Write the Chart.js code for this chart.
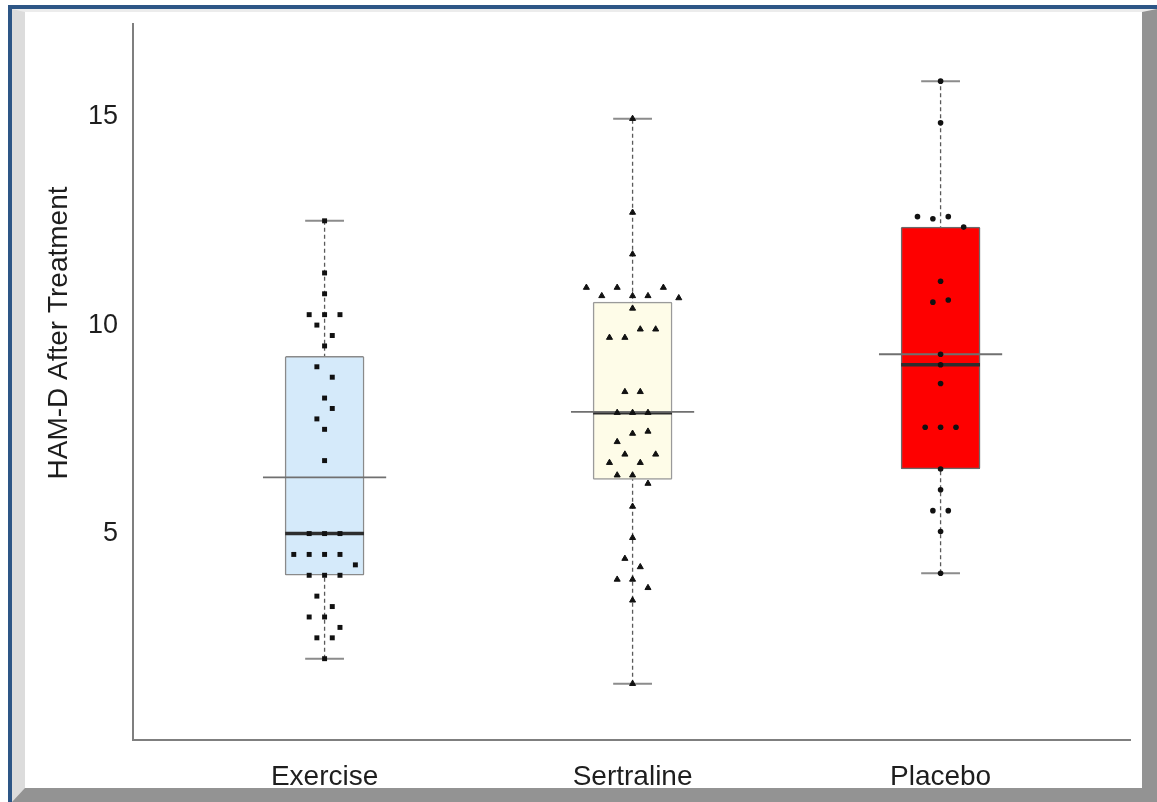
<!DOCTYPE html>
<html>
<head>
<meta charset="utf-8">
<script src="https://cdn.jsdelivr.net/npm/chart.js@4.4.1/dist/chart.umd.min.js"></script>
<style>
  html, body { margin: 0; padding: 0; background: #ffffff; }
  #stage { position: relative; width: 1157px; height: 802px; overflow: hidden; background: #ffffff; }
  #frame {
    position: absolute; left: 8px; top: 5px; width: 1153px; height: 801px;
    box-sizing: border-box; border: 4px solid #2d5686;
  }
  #bevel {
    position: absolute; left: 0; top: 0; right: 0; bottom: 0;
    box-sizing: border-box; background: #ffffff;
    border-left: 13px solid #dcdcdc; border-top: 3px solid #ececec;
    border-right: 15px solid #939393; border-bottom: 14px solid #939393;
  }
  #plot { position: absolute; left: 0; top: 0; }
</style>
</head>
<body>
<div id="stage">
  <div id="frame"><div id="bevel"></div></div>
  <canvas id="plot" width="1157" height="802"></canvas>
</div>
<script>
// Treatment groups and y-axis ticks
const groups = ['Exercise', 'Sertraline', 'Placebo'];
const yTicks = [5, 10, 15];

// Individual HAM-D scores per group, with a small horizontal jitter slot for each point
const exerciseScores = [12.5, 11.25, 10.75, 10.25, 10.25, 10.25, 10.0, 9.75, 9.5, 9.0, 8.75, 8.25, 8.0, 7.75, 7.5, 6.75,
  5.0, 5.0, 5.0, 4.5, 4.5, 4.5, 4.5, 4.25, 4.0, 4.0, 4.0, 3.5, 3.25, 3.0, 3.0, 2.75, 2.5, 2.5, 2.0];
const exerciseJitter = [0, 0, 0, -2, 0, 2, -1, 1, 0, -1, 1, 0, 1, -1, 0, 0,
  -2, 0, 2, -4, -2, 0, 2, 4, -2, 0, 2, -1, 1, -2, 0, 2, -1, 1, 0];

const sertralineScores = [14.95, 12.7, 11.7, 10.9, 10.9, 10.9, 10.7, 10.7, 10.7, 10.65, 10.4, 9.9, 9.9, 9.7, 9.7,
  8.4, 8.4, 7.9, 7.9, 7.9, 7.4, 7.45, 7.2, 6.9, 6.9, 6.7, 6.7, 6.4, 6.4, 6.2, 5.65, 4.9, 4.4, 4.2, 3.9, 3.9, 3.7, 3.4, 1.4];
const sertralineJitter = [0, 0, 0, -6, -2, 4, -4, 0, 2, 6, 0, 1, 3, -3, -1,
  -1, 1, -2, 0, 2, 0, 2, -2, -1, 3, -3, 1, -2, 0, 2, 0, 0, -1, 1, -2, 0, 2, 0, 0];

const placeboScores = [15.85, 14.85, 12.6, 12.55, 12.6, 12.35, 11.05, 10.55, 10.6, 9.3, 9.05, 8.6,
  7.55, 7.55, 7.55, 6.55, 6.05, 5.55, 5.55, 5.05, 4.05];
const placeboJitter = [0, 0, -3, -1, 1, 3, 0, -1, 1, 0, 0, 0,
  -2, 0, 2, 0, 0, -1, 1, 0, 0];

// Box summaries per group
const whiskerLow  = [2.0, 1.4, 4.05];
const quartile1   = [4.0, 6.3, 6.55];
const medians     = [5.0, 7.9, 9.05];
const quartile3   = [9.25, 10.55, 12.35];
const whiskerHigh = [12.5, 14.95, 15.85];
const means       = [6.35, 7.92, 9.3];

// Drawing constants (in x-axis units: one unit per group)
const JITTER_STEP = 0.025;
const BOX_HALF = 0.128;
const CAP_HALF = 0.063;
const MEAN_HALF = 0.2;

const boxFills = ['#d5eafa', '#fefce8', '#fe0000'];
const boxEdges = ['#8a8a8a', '#9a9a9a', '#6a6a6a'];

function segments(build) {
  const out = [];
  groups.forEach((g, i) => {
    build(i).forEach(seg => {
      out.push({ x: seg[0], y: seg[2] }, { x: seg[1], y: seg[2] }, { x: i, y: null });
    });
  });
  return out;
}

const whiskerData = [];
groups.forEach((g, i) => {
  whiskerData.push({ x: i, y: whiskerLow[i] }, { x: i, y: whiskerHigh[i] }, { x: i, y: null });
});

const capData = segments(i => [
  [i - CAP_HALF, i + CAP_HALF, whiskerHigh[i]],
  [i - CAP_HALF, i + CAP_HALF, whiskerLow[i]]
]);
const medianData = segments(i => [[i - BOX_HALF, i + BOX_HALF, medians[i]]]);
const meanData = segments(i => [[i - MEAN_HALF, i + MEAN_HALF, means[i]]]);

function strip(scores, jitter, gi) {
  return scores.map((v, k) => ({ x: gi + jitter[k] * JITTER_STEP, y: v }));
}

const axisCaption = {
  id: 'axisCaption',
  afterDraw(chart) {
    const ctx = chart.ctx;
    ctx.save();
    ctx.fillStyle = '#1e1e1e';
    ctx.font = '28px "Liberation Sans", Arial, sans-serif';
    ctx.textAlign = 'center';
    ctx.textBaseline = 'middle';
    ctx.translate(59, 333);
    ctx.rotate(-Math.PI / 2);
    ctx.fillText('HAM-D After Treatment', 0, 0);
    ctx.restore();
  }
};

new Chart(document.getElementById('plot'), {
  type: 'scatter',
  data: {
    datasets: [
      {
        type: 'line', label: 'whiskers', data: whiskerData, order: 6,
        showLine: true, spanGaps: false, borderColor: '#5a5a5a', borderWidth: 1.3,
        borderDash: [4, 3], pointRadius: 0, fill: false
      },
      {
        type: 'line', label: 'caps', data: capData, order: 5,
        showLine: true, spanGaps: false, borderColor: '#8c8c8c', borderWidth: 2,
        pointRadius: 0, fill: false
      },
      {
        type: 'bar', label: 'boxes', order: 4,
        data: groups.map((g, i) => ({ x: i, y: [quartile1[i], quartile3[i]] })),
        backgroundColor: boxFills, borderColor: boxEdges, borderWidth: 1.5,
        borderSkipped: false, barThickness: 79, borderRadius: 1.5
      },
      {
        type: 'line', label: 'medians', data: medianData, order: 3,
        showLine: true, spanGaps: false, borderColor: '#2e2e2e', borderWidth: 3.5,
        pointRadius: 0, fill: false
      },
      {
        type: 'line', label: 'means', data: meanData, order: 2,
        showLine: true, spanGaps: false, borderColor: '#707070', borderWidth: 1.8,
        pointRadius: 0, fill: false
      },
      {
        label: groups[0], data: strip(exerciseScores, exerciseJitter, 0), order: 1,
        pointStyle: 'rect', pointRadius: 3.5, backgroundColor: '#111111', borderColor: '#111111', borderWidth: 0
      },
      {
        label: groups[1], data: strip(sertralineScores, sertralineJitter, 1), order: 1,
        pointStyle: 'triangle', pointRadius: 3.5, backgroundColor: '#111111', borderColor: '#111111', borderWidth: 1
      },
      {
        label: groups[2], data: strip(placeboScores, placeboJitter, 2), order: 1,
        pointStyle: 'circle', pointRadius: 2.8, backgroundColor: '#111111', borderColor: '#111111', borderWidth: 0
      }
    ]
  },
  options: {
    responsive: false,
    animation: false,
    layout: { padding: { left: 0, top: 24, right: 27, bottom: 0 } },
    plugins: { legend: { display: false }, tooltip: { enabled: false } },
    scales: {
      x: {
        type: 'linear', min: -0.622, max: 2.615, offset: false,
        grid: { display: false, drawTicks: false, offset: false },
        border: { display: true, color: '#7f7f7f', width: 2 },
        afterBuildTicks: s => { s.ticks = groups.map((g, i) => ({ value: i })); },
        afterFit: s => { s.height = 62; s.paddingLeft = 0; s.paddingRight = 0; },
        ticks: {
          callback: v => groups[v],
          font: { family: '"Liberation Sans", Arial, sans-serif', size: 28 },
          color: '#1e1e1e', padding: 20, maxRotation: 0, autoSkip: false
        }
      },
      y: {
        type: 'linear', min: 0.05, max: 17.22, offset: false,
        grid: { display: false, drawTicks: false },
        border: { display: true, color: '#7f7f7f', width: 2 },
        afterBuildTicks: s => { s.ticks = yTicks.map(v => ({ value: v })); },
        afterFit: s => { s.width = 133; s.paddingTop = 0; s.paddingBottom = 0; },
        ticks: {
          font: { family: '"Liberation Sans", Arial, sans-serif', size: 27 },
          color: '#1e1e1e', padding: 15
        }
      }
    }
  },
  plugins: [axisCaption]
});
</script>
</body>
</html>
